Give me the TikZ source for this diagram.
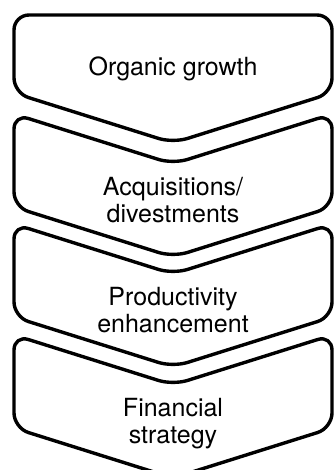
\documentclass[tikz,border=0pt]{standalone}
\usepackage{fontspec}
\setmainfont{TeX Gyre Heros}
\usepackage{tikz}

\begin{document}
\begin{tikzpicture}[x=1pt, y=-1pt,
		chevron/.style={draw=black, line width=3.4pt, rounded corners=15pt, line join=round},
		steptext/.style={font=\fontsize{25}{26.5}\selectfont, align=center, anchor=base, inner sep=0pt}]
		\useasboundingbox (0,0) rectangle (335,470);
		
		% First step (flat top)
		\draw[chevron] (173,15) -- (332,15) -- (332,93) -- (173,143) -- (14,93) -- (14,15) -- cycle;
		\node[steptext] (organic) at (173,76) {Organic growth};
		
		% Second step (base sits on the last line)
		\begin{scope}[shift={(0,114)}]
			\draw[chevron] (332,40) -- (332,93) -- (173,143) -- (14,93) -- (14,0) -- (173,50) -- (332,0) -- cycle;
			\node[steptext] (acquis) at (173,108) {Acquisitions/\\divestments};
		\end{scope}
		
		% Third step
		\begin{scope}[shift={(0,224)}]
			\draw[chevron] (332,40) -- (332,93) -- (173,143) -- (14,93) -- (14,0) -- (173,50) -- (332,0) -- cycle;
			\node[steptext] (product) at (173,108) {Productivity\\enhancement};
		\end{scope}
		
		% Last step (tip runs off the bottom)
		\begin{scope}[shift={(0,335)}]
			\draw[chevron] (332,40) -- (332,93) -- (173,143) -- (14,93) -- (14,0) -- (173,50) -- (332,0) -- cycle;
			\node[steptext] (finance) at (173,108) {Financial\\strategy};
		\end{scope}
	\end{tikzpicture}
\end{document}
